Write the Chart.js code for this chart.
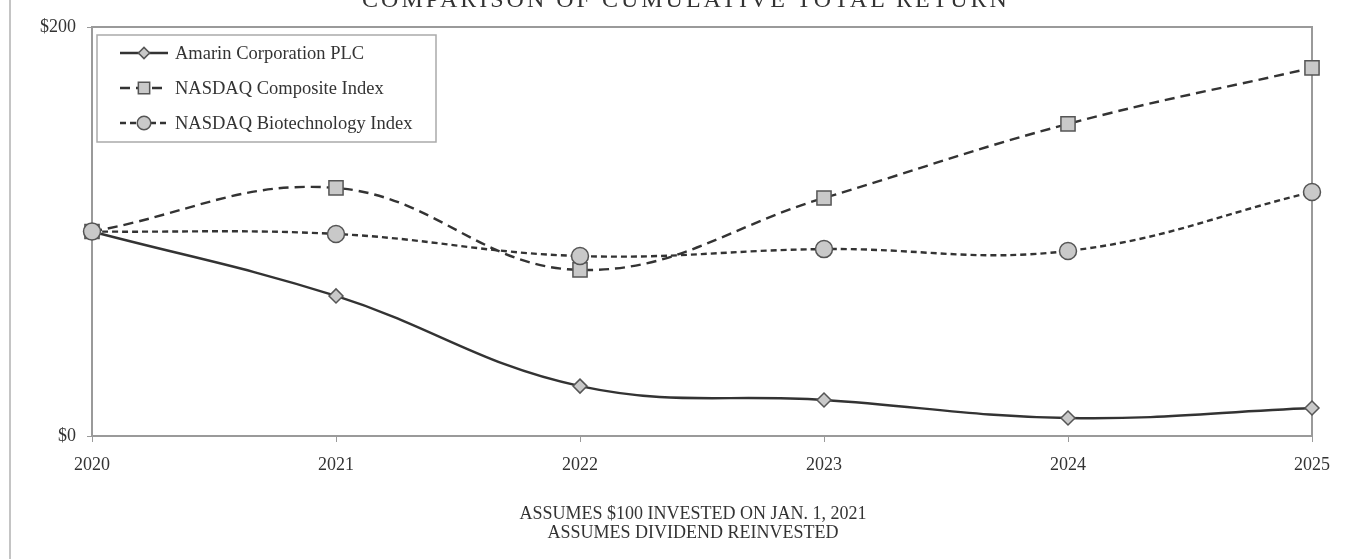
<!DOCTYPE html>
<html>
<head>
<meta charset="utf-8">
<script src="https://cdn.jsdelivr.net/npm/chart.js@4"></script>
<style>
  html, body { margin: 0; padding: 0; background: #fff; }
  #wrap { position: relative; width: 1345px; height: 559px; overflow: hidden; }
  #edge { position: absolute; left: 9px; top: 0; width: 0; height: 559px; border-left: 2px solid #c4c4c4; }
  #title { position: absolute; left: 340px; width: 692px; top: -13px; text-align: center;
           font: 24px "Liberation Serif", serif; letter-spacing: 3px; color: #333; line-height: 24px; white-space: nowrap; }
  #notes { position: absolute; left: 443px; width: 500px; top: 504px; text-align: center;
           font: 18px "Liberation Serif", serif; color: #333; line-height: 19px; }
</style>
</head>
<body>
<div id="wrap">
  <canvas id="returnChart" width="1345" height="559"></canvas>
  <div id="edge"></div>
  <div id="title">COMPARISON OF CUMULATIVE TOTAL RETURN</div>
  <div id="notes">ASSUMES $100 INVESTED ON JAN. 1, 2021<br>ASSUMES DIVIDEND REINVESTED</div>
</div>
<script>
// values
const years = ['2020', '2021', '2022', '2023', '2024', '2025'];
const amarin = [100, 68.5, 24.4, 17.6, 8.8, 13.7];
const nasdaqComposite = [100, 121.3, 81.2, 116.4, 152.6, 180];
const nasdaqBiotech = [100, 98.8, 88, 91.4, 90.5, 119.3];
const yTicks = [0, 200];

const ink = '#333';
const axisGrey = '#9a9a9a';
const serif = '"Liberation Serif", "Times New Roman", serif';

function series(label, data, dash, style, radius, order) {
    return {
        label, data, order,
        borderColor: ink,
        borderWidth: 2.4,
        borderDash: dash,
        tension: 0.4,
        pointStyle: style,
        pointRadius: radius,
        pointBackgroundColor: '#c9c9c9',
        pointBorderColor: '#555',
        pointBorderWidth: 1.5,
        clip: false
    };
}

// plot frame + boxed legend with line and marker samples
const frameAndLegend = {
    id: 'frameAndLegend',
    beforeDatasetsDraw(chart) {
        const { ctx, chartArea: a } = chart;
        ctx.save();
        ctx.strokeStyle = axisGrey;
        ctx.lineWidth = 2;
        ctx.strokeRect(a.left, a.top, a.right - a.left, a.bottom - a.top);
        ctx.restore();
    },
    afterDraw(chart) {
        const { ctx } = chart;
        const box = { x: 97, y: 35, w: 339, h: 107 };
        ctx.save();
        ctx.fillStyle = '#fff';
        ctx.fillRect(box.x, box.y, box.w, box.h);
        ctx.strokeStyle = '#aaa';
        ctx.lineWidth = 1.5;
        ctx.strokeRect(box.x, box.y, box.w, box.h);
        ctx.font = '18.5px ' + serif;
        ctx.textBaseline = 'middle';
        chart.data.datasets.forEach((ds, i) => {
            const y = 53 + i * 35;
            ctx.strokeStyle = ink;
            ctx.lineWidth = ds.borderWidth;
            ctx.setLineDash(ds.borderDash || []);
            ctx.beginPath();
            ctx.moveTo(120, y);
            ctx.lineTo(168, y);
            ctx.stroke();
            ctx.setLineDash([]);
            ctx.fillStyle = ds.pointBackgroundColor;
            ctx.strokeStyle = ds.pointBorderColor;
            ctx.lineWidth = ds.pointBorderWidth;
            Chart.helpers.drawPoint(ctx, { pointStyle: ds.pointStyle, radius: ds.pointRadius * 0.8, borderWidth: ds.pointBorderWidth }, 144, y);
            ctx.fillStyle = ink;
            ctx.fillText(ds.label, 175, y + 1);
        });
        ctx.restore();
    }
};

new Chart(document.getElementById('returnChart'), {
    type: 'line',
    data: {
        labels: years,
        datasets: [
            series('Amarin Corporation PLC', amarin, [], 'rectRot', 7, 2),
            series('NASDAQ Composite Index', nasdaqComposite, [10, 6], 'rect', 10, 1),
            series('NASDAQ Biotechnology Index', nasdaqBiotech, [6, 4], 'circle', 8.5, 0)
        ]
    },
    plugins: [frameAndLegend],
    options: {
        responsive: false,
        animation: false,
        layout: { padding: { left: 0, right: 33, top: 27, bottom: 0 } },
        plugins: { legend: { display: false }, tooltip: { enabled: false } },
        scales: {
            x: {
                offset: false,
                grid: { drawOnChartArea: false, color: axisGrey, tickLength: 6 },
                border: { color: axisGrey, width: 2 },
                ticks: { color: ink, font: { family: serif, size: 18 }, padding: 12, maxRotation: 0 },
                afterFit(scale) { scale.height = 123; }
            },
            y: {
                min: 0, max: 200,
                afterBuildTicks(scale) { scale.ticks = yTicks.map(v => ({ value: v })); },
                grid: { drawOnChartArea: false, color: axisGrey, tickLength: 5 },
                border: { color: axisGrey, width: 2 },
                ticks: { color: ink, font: { family: serif, size: 18 }, padding: 11, callback: v => '$' + v },
                afterFit(scale) { scale.width = 92; }
            }
        }
    }
});
</script>
</body>
</html>
